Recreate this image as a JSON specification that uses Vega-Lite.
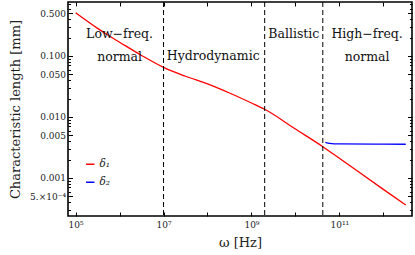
{
  "$schema": "https://vega.github.io/schema/vega-lite/v6.json",
  "width": 344,
  "height": 214,
  "autosize": {"type": "none"},
  "padding": {"left": 68, "top": 2, "right": 3, "bottom": 39},
  "background": "white",
  "config": {
    "view": {"stroke": "black", "strokeWidth": 1.6},
    "font": "DejaVu Serif",
    "axis": {"domain": false, "grid": false, "labelFont": "DejaVu Serif", "labelFontSize": 9, "labelColor": "#222", "tickColor": "black", "tickWidth": 1, "titleFont": "DejaVu Serif", "titleFontWeight": "normal", "titleFontSize": 13, "titleColor": "#222"}
  },
  "datasets": {
    "curves": [
      {"w": 100000, "len": 0.51, "s": "δ₁"},
      {"w": 316000, "len": 0.283, "s": "δ₁"},
      {"w": 600000, "len": 0.21, "s": "δ₁"},
      {"w": 1000000, "len": 0.168, "s": "δ₁"},
      {"w": 3160000, "len": 0.102, "s": "δ₁"},
      {"w": 10000000, "len": 0.065, "s": "δ₁"},
      {"w": 31600000, "len": 0.0465, "s": "δ₁"},
      {"w": 100000000, "len": 0.0348, "s": "δ₁"},
      {"w": 316000000, "len": 0.0247, "s": "δ₁"},
      {"w": 1000000000, "len": 0.01695, "s": "δ₁"},
      {"w": 2000000000, "len": 0.01337, "s": "δ₁"},
      {"w": 10000000000, "len": 0.00634, "s": "δ₁"},
      {"w": 42000000000, "len": 0.00326, "s": "δ₁"},
      {"w": 100000000000, "len": 0.0021, "s": "δ₁"},
      {"w": 1000000000000, "len": 0.00065, "s": "δ₁"},
      {"w": 3240000000000, "len": 0.00036, "s": "δ₁"},
      {"w": 48000000000, "len": 0.00385, "s": "δ₂"},
      {"w": 60000000000, "len": 0.0037, "s": "δ₂"},
      {"w": 100000000000, "len": 0.00362, "s": "δ₂"},
      {"w": 1000000000000, "len": 0.00358, "s": "δ₂"},
      {"w": 3240000000000, "len": 0.00357, "s": "δ₂"}
    ],
    "bounds": [
      {"w": 10000000},
      {"w": 2000000000},
      {"w": 42000000000}
    ],
    "labels": [
      {"w": 1000000, "len": 0.225, "t": "Low−freq."},
      {"w": 1000000, "len": 0.098, "t": "normal"},
      {"w": 135000000, "len": 0.1, "t": "Hydrodynamic"},
      {"w": 9200000000, "len": 0.225, "t": "Ballistic"},
      {"w": 427000000000, "len": 0.225, "t": "High−freq."},
      {"w": 427000000000, "len": 0.098, "t": "normal"}
    ]
  },
  "resolve": {"axis": {"x": "independent", "y": "independent"}},
  "layer": [
    {
      "data": {"name": "curves"},
      "mark": {"type": "line", "strokeWidth": 1.3, "interpolate": "monotone"},
      "encoding": {
        "x": {"field": "w", "type": "quantitative", "scale": {"type": "log", "domain": [67100, 4490000000000], "nice": false},
          "axis": {"orient": "bottom", "title": "ω [Hz]", "values": [100000, 1000000, 10000000, 100000000, 1000000000, 10000000000, 100000000000, 1000000000000],
            "labelExpr": "datum.value < 200000 ? '10⁵' : datum.value < 2000000 ? '' : datum.value < 20000000 ? '10⁷' : datum.value < 200000000 ? '' : datum.value < 2000000000 ? '10⁹' : datum.value < 20000000000 ? '' : datum.value < 200000000000 ? '10¹¹' : ''",
            "tickSize": -4, "labelPadding": 8, "titlePadding": 7}},
        "y": {"field": "len", "type": "quantitative", "scale": {"type": "log", "domain": [0.000238, 0.767], "nice": false},
          "axis": {"orient": "left", "title": "Characteristic length [mm]", "values": [0.0005, 0.001, 0.005, 0.01, 0.05, 0.1, 0.5],
            "labelExpr": "datum.value > 0.4 ? '0.500' : datum.value > 0.09 ? '0.100' : datum.value > 0.04 ? '0.050' : datum.value > 0.009 ? '0.010' : datum.value > 0.004 ? '0.005' : datum.value > 0.0009 ? '0.001' : '5.×10⁻⁴'",
            "tickSize": -4.5, "labelPadding": 7, "titlePadding": 7}},
        "color": {"field": "s", "type": "nominal", "scale": {"domain": ["δ₁", "δ₂"], "range": ["#ff0000", "#0000ff"]},
          "legend": {"title": null, "orient": "none", "legendX": 17, "legendY": 157, "symbolType": "stroke", "symbolSize": 70, "symbolStrokeWidth": 1.5, "labelFont": "DejaVu Serif", "labelFontSize": 10.5, "labelFontStyle": "italic", "labelColor": "#222", "rowPadding": 7, "padding": 0, "labelOffset": 4}}
      }
    },
    {
      "data": {"name": "bounds"},
      "mark": {"type": "rule", "strokeDash": [5, 3], "strokeWidth": 1, "color": "black"},
      "encoding": {
        "x": {"field": "w", "type": "quantitative", "scale": {"type": "log"},
          "axis": {"orient": "top", "title": null, "labels": false, "values": [100000, 1000000, 10000000, 100000000, 1000000000, 10000000000, 100000000000, 1000000000000], "tickSize": -4}}
      }
    },
    {
      "data": {"name": "labels"},
      "mark": {"type": "text", "font": "DejaVu Serif", "fontSize": 12.5, "color": "#111", "align": "center", "baseline": "middle"},
      "encoding": {
        "x": {"field": "w", "type": "quantitative", "scale": {"type": "log"}, "axis": null},
        "y": {"field": "len", "type": "quantitative", "scale": {"type": "log"},
          "axis": {"orient": "right", "title": null, "labels": false, "values": [0.0003, 0.0004, 0.0005, 0.0006, 0.0007, 0.0008, 0.0009, 0.001, 0.002, 0.003, 0.004, 0.005, 0.006, 0.007, 0.008, 0.009, 0.01, 0.02, 0.03, 0.04, 0.05, 0.06, 0.07, 0.08, 0.09, 0.1, 0.2, 0.3, 0.4, 0.5, 0.6, 0.7],
            "tickSize": {"condition": {"test": "indexof([0.0005, 0.001, 0.005, 0.01, 0.05, 0.1, 0.5], datum.value) >= 0", "value": -4.5}, "value": -2.5}}},
        "text": {"field": "t"}
      }
    },
    {
      "data": {"name": "labels"},
      "mark": {"type": "text", "opacity": 0},
      "encoding": {
        "x": {"field": "w", "type": "quantitative", "scale": {"type": "log"}, "axis": null},
        "y": {"field": "len", "type": "quantitative", "scale": {"type": "log"},
          "axis": {"orient": "left", "title": null, "labels": false, "values": [0.0003, 0.0004, 0.0006, 0.0007, 0.0008, 0.0009, 0.002, 0.003, 0.004, 0.006, 0.007, 0.008, 0.009, 0.02, 0.03, 0.04, 0.06, 0.07, 0.08, 0.09, 0.2, 0.3, 0.4, 0.6, 0.7],
            "tickSize": -2.5}},
        "text": {"field": "t"}
      }
    }
  ]
}
